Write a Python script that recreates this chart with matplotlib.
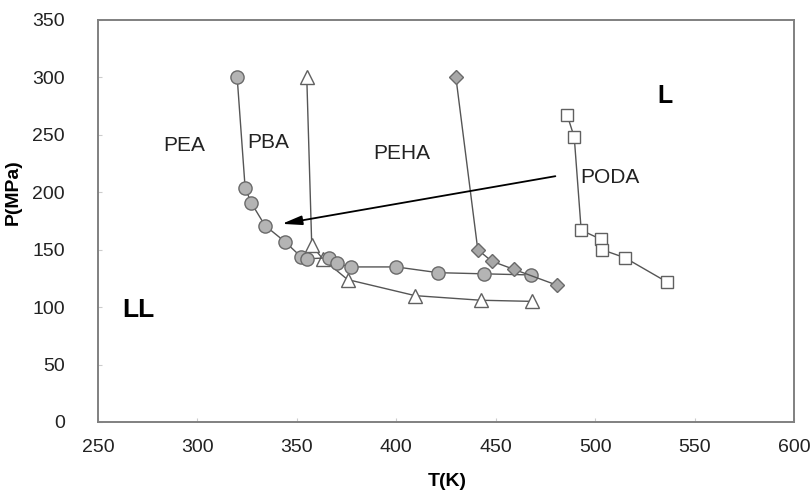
import matplotlib
matplotlib.use('Agg')
from matplotlib import pyplot as plt

plt.rcParams['font.family'] = ['Liberation Sans', 'DejaVu Sans']

# Phase boundary points, T in K and P in MPa.
pea_t = [320, 324, 327, 334, 344, 352, 355, 366, 370, 377, 400, 421, 444, 468]
pea_p = [300, 204, 191, 171, 157, 144, 142, 143, 138, 135, 135, 130, 129, 128]

pba_t = [355, 357.5, 363, 375.5, 409.5, 442.5, 468.5]
pba_p = [300, 154, 142, 124, 110, 106, 105]

peha_t = [430, 441, 448, 459, 481]
peha_p = [300, 150, 140, 133, 119]

poda_t = [486, 489.5, 493, 503, 503.5, 515, 536]
poda_p = [267, 248, 167, 159, 150, 143, 122]

labels = ['PEA', 'PBA', 'PEHA', 'PODA']
label_t = [293.5, 335.5, 403, 507.5]
label_p = [241, 243, 234, 213]

fig = plt.figure(figsize=(8.11, 4.9), dpi=100)
ax = fig.add_axes([0.1208, 0.1388, 0.8582, 0.8204])

line_c = '#555555'
ax.plot(pba_t, pba_p, '-', color=line_c, lw=1, marker='^', ms=10,
        mfc='white', mec='#606060', mew=1, zorder=3)
ax.plot(pea_t, pea_p, '-', color=line_c, lw=1, marker='o', ms=9.5,
        mfc='#b4b4b4', mec='#6a6a6a', mew=1, zorder=4)
ax.plot(peha_t, peha_p, '-', color=line_c, lw=1, marker='D', ms=7.5,
        mfc='#a8a8a8', mec='#6a6a6a', mew=1, zorder=4)
ax.plot(poda_t, poda_p, '-', color=line_c, lw=1, marker='s', ms=9,
        mfc='white', mec='#606060', mew=1, zorder=4)

# trend arrow
ax.annotate('', xy=(342.5, 172.5), xytext=(480, 214),
            arrowprops=dict(arrowstyle='-|>,head_length=1.2,head_width=0.28',
                            color='black', lw=1.3, shrinkA=0, shrinkB=0),
            zorder=5)

for name, t, p in zip(labels, label_t, label_p):
    ax.text(t, p, name, fontsize=15, ha='center', va='center', color='#222222')
ax.text(535, 284, 'L', fontsize=18, fontweight='bold', ha='center', va='center')
ax.text(270.5, 97.5, 'LL', fontsize=19, fontweight='bold', ha='center', va='center')

ax.set_xlim(250, 600)
ax.set_ylim(0, 350)
ax.set_xticks(range(250, 601, 50))
ax.set_yticks(range(0, 351, 50))
ax.tick_params(axis='both', direction='in', length=3, color='#cccccc',
               labelsize=14, labelcolor='#222222')
ax.tick_params(axis='y', pad=24)
ax.tick_params(axis='x', pad=12)
for s in ax.spines.values():
    s.set_color('#808080')
    s.set_linewidth(1.4)

fig.text(0.552, 0.018, 'T(K)', fontsize=14, fontweight='bold', ha='center', va='center')
fig.text(0.016, 0.608, 'P(MPa)', fontsize=14, fontweight='bold', ha='center',
         va='center', rotation=90)

fig.savefig('out.png', dpi=100)
